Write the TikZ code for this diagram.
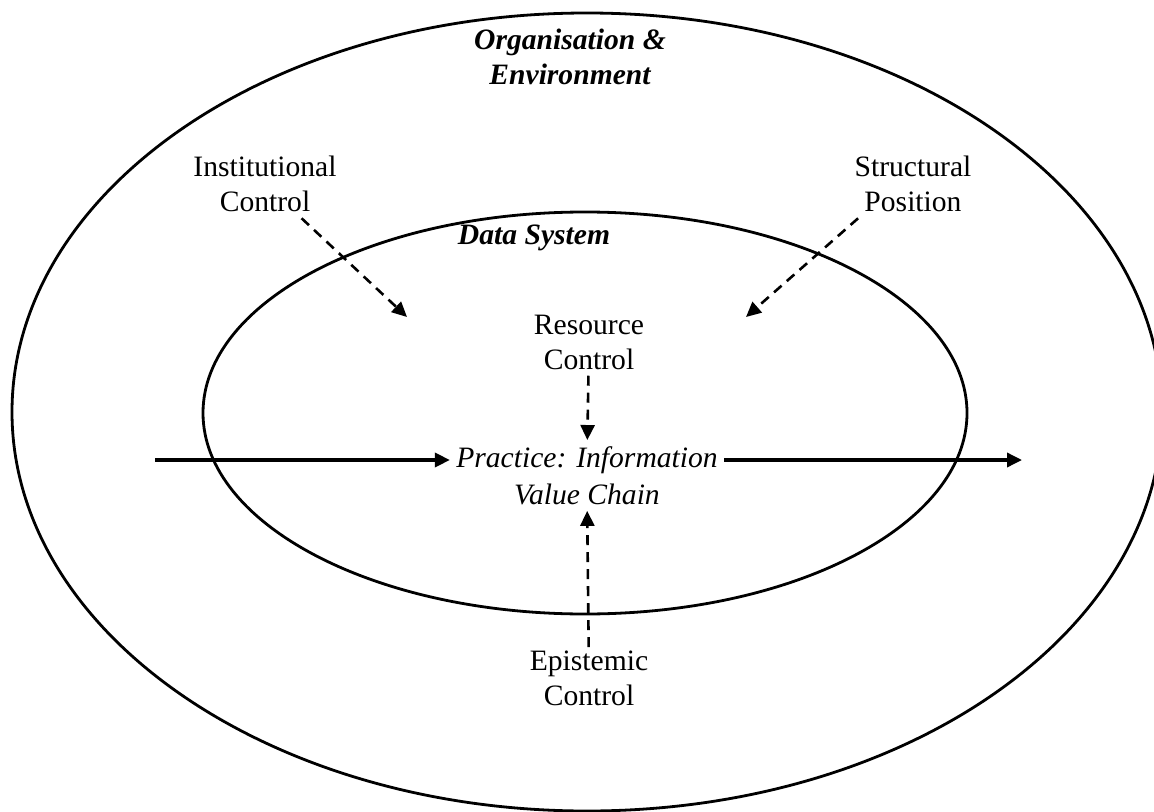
\documentclass[tikz,border=0pt]{standalone}
\usepackage{fontspec}
\setmainfont{Liberation Serif}
\usepackage{tikz}
\usetikzlibrary{arrows.meta,calc}
\usetikzlibrary{positioning}

\tikzset{
  lbl/.style={font=\fontsize{14.8}{17.5}\selectfont,align=center,inner sep=3pt},
  flowarr/.style={line width=1.7pt,-{Triangle[length=7.5pt,width=7pt]}},
  ctrlarr/.style={line width=1.3pt,dash pattern=on 5pt off 3.5pt,-{Triangle[length=7.5pt,width=7pt]}}
}

\begin{document}
\begin{tikzpicture}[x=0.5pt,y=-0.5pt,line join=round]
\useasboundingbox (0,0) rectangle (1154,812);
% outer and inner ellipses
\draw[line width=1.4pt] (587,412) ellipse [x radius=575, y radius=399];
\draw[line width=1.4pt] (585,413) ellipse [x radius=382, y radius=201];
% labels
\node[lbl,font=\fontsize{14.8}{17.5}\selectfont\bfseries\itshape] (org) at (570,57) {Organisation \&\\Environment};
\node[lbl,font=\fontsize{14.8}{17.5}\selectfont\bfseries\itshape] (data) at (534,238) {Data System};
\node[lbl] (inst) at (265,184) {Institutional\\Control};
\node[lbl] (struct) at (913,184) {Structural\\Position};
\node[lbl] (res) at (589,342) {Resource\\Control};
\node[lbl,font=\fontsize{14.8}{17.5}\selectfont\itshape] (prac) at (587,460) {Practice: Information};
\node[lbl,font=\fontsize{14.8}{17.5}\selectfont\itshape] (vchain) at (587,494) {Value Chain};
\node[lbl] (epi) at (589,678) {Epistemic\\Control};
% free ends
\coordinate (inL) at (155,460);
\coordinate (outR) at (1022,460);
\coordinate (instEnd) at (407,317);
\coordinate (structEnd) at (746,317);
% value chain flow
\draw[flowarr] (inL) -- (prac.west);
\draw[flowarr] (prac.east) -- (outR);
% controls
\draw[ctrlarr] (inst) -- (instEnd);
\draw[ctrlarr] (struct.212) -- (structEnd);
\draw[ctrlarr] (res) -- (prac);
\draw[ctrlarr,shorten <=-1.5pt] (epi) -- (vchain);
\end{tikzpicture}
\end{document}
